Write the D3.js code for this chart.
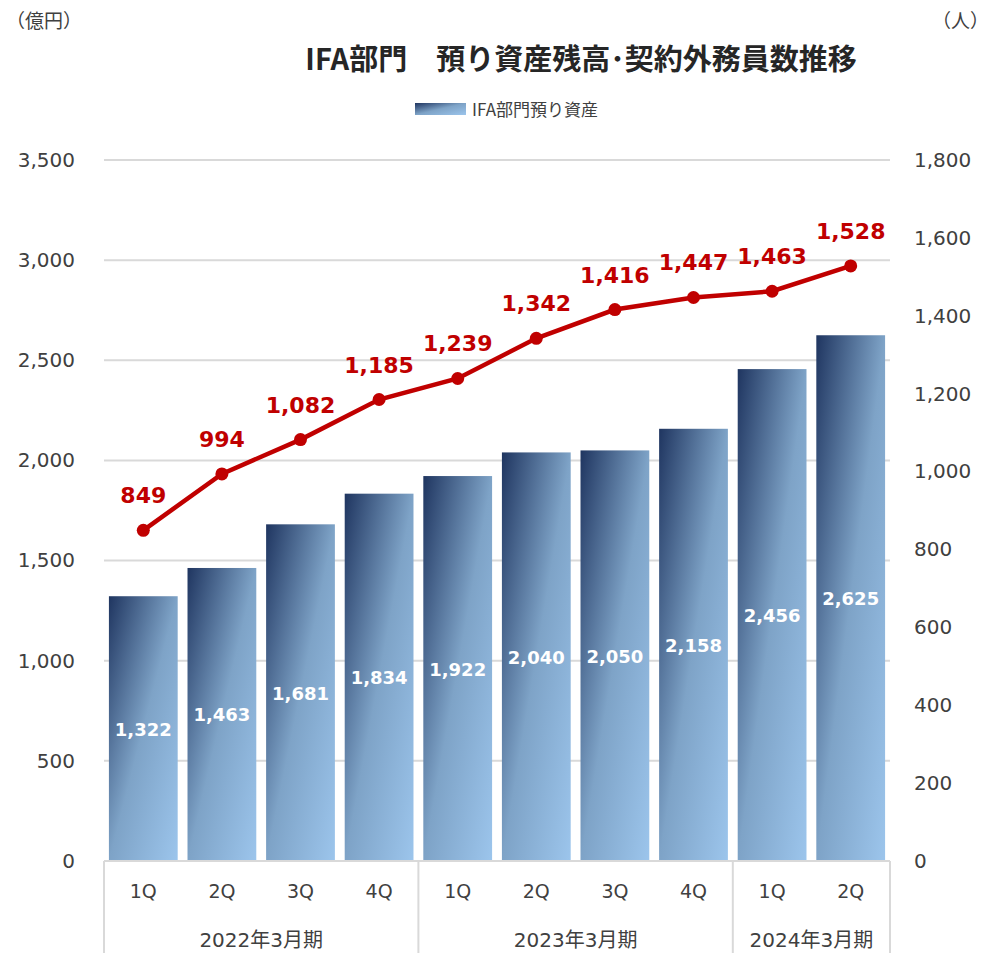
<!DOCTYPE html>
<html>
<head>
<meta charset="utf-8">
<script src="https://cdn.jsdelivr.net/npm/d3@7"></script>
<style>
  body { margin: 0; background: #fff; }
  svg text { font-family: "Noto Sans CJK JP", "Noto Sans", sans-serif; }
  svg text.num { font-family: "DejaVu Sans", "Noto Sans CJK JP", sans-serif; }
</style>
</head>
<body>
<svg id="chart" width="989" height="953"></svg>
<script>
// data
const quarters = ["1Q", "2Q", "3Q", "4Q", "1Q", "2Q", "3Q", "4Q", "1Q", "2Q"];
const periods = ["2022年3月期", "2023年3月期", "2024年3月期"];
const periodSizes = [4, 4, 2];
const assets = [1322, 1463, 1681, 1834, 1922, 2040, 2050, 2158, 2456, 2625];
const staff = [849, 994, 1082, 1185, 1239, 1342, 1416, 1447, 1463, 1528];
const leftTicks = [0, 500, 1000, 1500, 2000, 2500, 3000, 3500];
const rightTicks = [0, 200, 400, 600, 800, 1000, 1200, 1400, 1600, 1800];

const svg = d3.select("#chart");
const plot = { left: 104, right: 890, top: 160, bottom: 861 };
const gridColor = "#d9d9d9";
const textColor = "#404040";
const red = "#c00000";
const fmt = d3.format(",");

// gradient for the bars: dark top-left corner to light bottom-right
const defs = svg.append("defs");
const grad = defs.append("linearGradient")
    .attr("id", "barGrad")
    .attr("x1", 0).attr("y1", 0).attr("x2", 1).attr("y2", 1);
grad.append("stop").attr("offset", "0").attr("stop-color", "#1f3560");
grad.append("stop").attr("offset", "0.5").attr("stop-color", "#7ea3c7");
grad.append("stop").attr("offset", "1").attr("stop-color", "#9cc5ec");

const x = d3.scaleBand()
    .domain(d3.range(quarters.length))
    .range([plot.left, plot.right])
    .paddingInner(0.125)
    .paddingOuter(0.0625);
const yLeft = d3.scaleLinear().domain([0, 3500]).range([plot.bottom, plot.top]);
const yRight = d3.scaleLinear().domain([0, 1800]).range([plot.bottom, plot.top]);

// gridlines
svg.append("g")
    .selectAll("line")
    .data(leftTicks.slice(1))
    .join("line")
    .attr("x1", plot.left).attr("x2", plot.right)
    .attr("y1", d => yLeft(d)).attr("y2", d => yLeft(d))
    .attr("stroke", gridColor).attr("stroke-width", 2);

// left axis
const leftAxis = svg.append("g")
    .attr("transform", `translate(${plot.left},0)`)
    .call(d3.axisLeft(yLeft).tickValues(leftTicks).tickFormat(fmt).tickSize(0).tickPadding(29));
leftAxis.select(".domain").remove();
leftAxis.selectAll("text").attr("class", "num").attr("fill", textColor).style("font-size", "20px");

// right axis
const rightAxis = svg.append("g")
    .attr("transform", `translate(${plot.right},0)`)
    .call(d3.axisRight(yRight).tickValues(rightTicks).tickFormat(fmt).tickSize(0).tickPadding(24));
rightAxis.select(".domain").remove();
rightAxis.selectAll("text").attr("class", "num").attr("fill", textColor).style("font-size", "20px");

// bars
svg.append("g")
    .selectAll("rect")
    .data(assets)
    .join("rect")
    .attr("x", (d, i) => x(i))
    .attr("y", d => yLeft(d))
    .attr("width", x.bandwidth())
    .attr("height", d => yLeft(0) - yLeft(d))
    .attr("fill", "url(#barGrad)");

// bar labels
svg.append("g")
    .selectAll("text")
    .data(assets)
    .join("text")
    .attr("class", "num")
    .attr("x", (d, i) => x(i) + x.bandwidth() / 2)
    .attr("y", d => (yLeft(d) + yLeft(0)) / 2 + 2)
    .attr("text-anchor", "middle")
    .attr("dominant-baseline", "middle")
    .attr("fill", "#fff")
    .style("font-size", "18px")
    .style("font-weight", "bold")
    .text(fmt);

// x axis frame
const axisG = svg.append("g").attr("stroke", gridColor).attr("stroke-width", 2);
axisG.append("line")
    .attr("x1", plot.left).attr("x2", plot.right)
    .attr("y1", plot.bottom).attr("y2", plot.bottom);
let start = 0;
const bounds = [0];
periodSizes.forEach(n => { start += n; bounds.push(start); });
bounds.forEach(b => {
    const bx = b === 0 ? plot.left : (b === quarters.length ? plot.right : x(b) - x.step() * x.paddingInner() / 2);
    axisG.append("line")
        .attr("x1", bx).attr("x2", bx)
        .attr("y1", plot.bottom).attr("y2", 953);
});

// quarter labels
svg.append("g")
    .selectAll("text")
    .data(quarters)
    .join("text")
    .attr("class", "num")
    .attr("x", (d, i) => x(i) + x.bandwidth() / 2)
    .attr("y", 898)
    .attr("text-anchor", "middle")
    .attr("fill", textColor)
    .style("font-size", "19px")
    .text(d => d);

// period labels
svg.append("g")
    .selectAll("text")
    .data(periods)
    .join("text")
    .attr("class", "num")
    .attr("x", (d, i) => {
        const a = bounds[i], b = bounds[i + 1] - 1;
        return (x(a) + x(b) + x.bandwidth()) / 2;
    })
    .attr("y", 947)
    .attr("text-anchor", "middle")
    .attr("fill", textColor)
    .style("font-size", "20px")
    .text(d => d);

// staff line
const line = d3.line()
    .x((d, i) => x(i) + x.bandwidth() / 2)
    .y(d => yRight(d));
svg.append("path")
    .datum(staff)
    .attr("d", line)
    .attr("fill", "none")
    .attr("stroke", red)
    .attr("stroke-width", 4.5);
svg.append("g")
    .selectAll("circle")
    .data(staff)
    .join("circle")
    .attr("cx", (d, i) => x(i) + x.bandwidth() / 2)
    .attr("cy", d => yRight(d))
    .attr("r", 6.5)
    .attr("fill", red);
svg.append("g")
    .selectAll("text")
    .data(staff)
    .join("text")
    .attr("class", "num")
    .attr("x", (d, i) => x(i) + x.bandwidth() / 2)
    .attr("y", d => yRight(d) - 27)
    .attr("text-anchor", "middle")
    .attr("fill", red)
    .style("font-size", "22px")
    .style("font-weight", "bold")
    .text(fmt);

// title
svg.append("text")
    .attr("x", 581).attr("y", 70)
    .attr("text-anchor", "middle")
    .attr("fill", "#262626")
    .style("font-size", "29px")
    .style("font-weight", "bold")
    .text("IFA部門\u3000預り資産残高･契約外務員数推移");

// legend
svg.append("rect")
    .attr("x", 415).attr("y", 103)
    .attr("width", 51).attr("height", 12)
    .attr("fill", "url(#barGrad)");
svg.append("text")
    .attr("x", 472).attr("y", 116)
    .attr("fill", textColor)
    .style("font-size", "17px")
    .text("IFA部門預り資産");

// unit labels
svg.append("text")
    .attr("x", 6).attr("y", 28)
    .attr("fill", textColor)
    .style("font-size", "19px")
    .text("（億円）");
svg.append("text")
    .attr("x", 989).attr("y", 28)
    .attr("text-anchor", "end")
    .attr("fill", textColor)
    .style("font-size", "19px")
    .text("（人）");
</script>
</body>
</html>
